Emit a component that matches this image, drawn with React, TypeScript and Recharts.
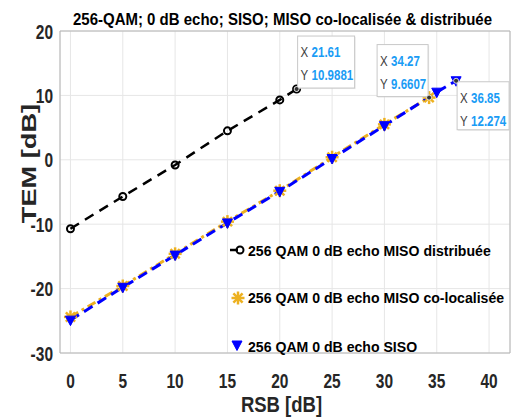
import React from 'react';
import { ComposedChart, Line, XAxis, YAxis, CartesianGrid, ReferenceLine, ReferenceDot } from 'recharts';

// RSB (dB) / TEM (dB)
const SNR_DIST = [0, 5, 10, 15, 20, 21.61];
const TEM_DIST = [-10.7, -5.7, -0.8, 4.5, 9.3, 10.9881];
const SNR_COLOC = [0, 5, 10, 15, 20, 25, 30, 34.27];
const TEM_COLOC = [-24.4, -19.6, -14.6, -9.6, -4.8, 0.4, 5.5, 9.6607];
const SNR_SISO = [0, 5, 10, 15, 20, 25, 30, 35, 36.85];
const TEM_SISO = [-24.9, -19.8, -14.8, -9.8, -4.9, 0.2, 5.3, 10.5, 12.274];

const X_TICKS = [0, 5, 10, 15, 20, 25, 30, 35, 40];
const Y_TICKS = [-30, -20, -10, 0, 10, 20];

const LEGEND_LABELS = [
  '256 QAM 0 dB echo MISO distribuée',
  '256 QAM 0 dB echo MISO co-localisée',
  '256 QAM 0 dB echo SISO',
];

// datatips
const TIP_X = [21.61, 34.27, 36.85];
const TIP_Y = [10.9881, 9.6607, 12.274];
const TIP_X_TEXT = ['21.61', '34.27', '36.85'];
const TIP_Y_TEXT = ['10.9881', '9.6607', '12.274'];

const zip = (xs: number[], ys: number[]) => xs.map((x, i) => ({ x, y: ys[i] }));
const distData = zip(SNR_DIST, TEM_DIST);
const colocData = zip(SNR_COLOC, TEM_COLOC);
const sisoData = zip(SNR_SISO, TEM_SISO);

const FONT = '"Liberation Sans", Arial, sans-serif';
const BLACK = '#000000';
const ORANGE = '#EDB120';
const BLUE = '#0000FF';
const TIP_BLUE = '#1a9cf5';

function STxt({ x, y, s, sy = 1.33, anchor = 'start', weight = 'bold', fill = '#262626', children }: any) {
  return (
    <text
      transform={`translate(${x},${y}) scale(1,${sy})`}
      fontSize={s}
      fontFamily={FONT}
      fontWeight={weight}
      fill={fill}
      textAnchor={anchor}
    >
      {children}
    </text>
  );
}

const YTick = (p: any) => (
  <STxt x={p.x} y={p.y + 7.5} s={15.5} sy={1.33} anchor="end">{p.payload.value}</STxt>
);
const XTick = (p: any) => (
  <STxt x={p.x} y={p.y} s={15.5} sy={1.32} anchor="middle">{p.payload.value}</STxt>
);

const Circle = ({ cx, cy }: any) => (
  <circle cx={cx} cy={cy} r={3.5} fill="none" stroke={BLACK} strokeWidth={2} />
);
const Star = ({ cx, cy }: any) => {
  const r = 6.5;
  return (
    <g stroke={ORANGE} strokeWidth={2.5}>
      {[0, 45, 90, 135].map((a) => {
        const dx = r * Math.cos((a * Math.PI) / 180);
        const dy = r * Math.sin((a * Math.PI) / 180);
        return <line key={a} x1={cx - dx} y1={cy - dy} x2={cx + dx} y2={cy + dy} />;
      })}
    </g>
  );
};
const Tri = ({ cx, cy }: any) => (
  <polygon points={`${cx - 5},${cy - 4} ${cx + 5},${cy - 4} ${cx},${cy + 5.5}`} fill={BLUE} stroke={BLUE} strokeWidth={1} />
);

const TIP_BOX = [
  { w: 57, h: 52, dx: 1, dy: -53 },
  { w: 51, h: 52, dx: -52, dy: -53 },
  { w: 52, h: 48, dx: 1, dy: 1 },
];

function tipShape(i: number) {
  return (p: any) => {
    const { cx, cy } = p;
    const b = TIP_BOX[i];
    const left = cx + b.dx;
    const top = cy + b.dy;
    return (
      <g>
        <rect x={left + 1} y={top + 1} width={b.w} height={b.h} fill="#d8d8d8" opacity={0.5} />
        <rect x={left} y={top} width={b.w} height={b.h} fill="#ffffff" stroke="#c8c8c8" strokeWidth={1} />
        <STxt x={left + 3} y={top + 21} s={11.5} sy={1.35} weight="normal" fill="#404040">X</STxt>
        <STxt x={left + 14} y={top + 21} s={11.5} sy={1.35} fill={TIP_BLUE}>{TIP_X_TEXT[i]}</STxt>
        <STxt x={left + 3} y={top + 44} s={11.5} sy={1.35} weight="normal" fill="#404040">Y</STxt>
        <STxt x={left + 14} y={top + 44} s={11.5} sy={1.35} fill={TIP_BLUE}>{TIP_Y_TEXT[i]}</STxt>
        <circle cx={cx} cy={cy} r={2.5} fill="#333" stroke="#fff" strokeWidth={0.8} />
      </g>
    );
  };
}

export default function App() {
  return (
    <div style={{ position: 'absolute', left: 0, top: 0, width: 521, height: 419, background: '#fff' }}>
      <ComposedChart width={521} height={419} margin={{ top: 31, right: 11, bottom: 0, left: 0 }}>
        <CartesianGrid stroke="#e6e6e6" strokeWidth={1} />
        <XAxis
          type="number"
          dataKey="x"
          domain={[-1, 42]}
          ticks={X_TICKS}
          interval={0}
          height={66}
          tickSize={0}
          tickMargin={35}
          tick={<XTick />}
          axisLine={{ stroke: '#b4b4b4' }}
          allowDataOverflow
        />
        <YAxis
          type="number"
          dataKey="y"
          domain={[-30, 20]}
          ticks={Y_TICKS}
          interval={0}
          width={60}
          tickSize={0}
          tickMargin={7}
          tick={<YTick />}
          axisLine={{ stroke: '#b4b4b4' }}
          allowDataOverflow
        />
        <ReferenceLine x={42} stroke="#b4b4b4" />
        <ReferenceLine y={20} stroke="#b4b4b4" />
        <Line
          data={distData}
          dataKey="y"
          stroke={BLACK}
          strokeWidth={2.5}
          strokeDasharray="10 7"
          dot={(p: any) => <Circle key={`d${p.index}`} {...p} />}
          isAnimationActive={false}
        />
        <Line
          data={colocData}
          dataKey="y"
          stroke={ORANGE}
          strokeWidth={3}
          strokeDasharray="9 4 3 4"
          dot={(p: any) => <Star key={`c${p.index}`} {...p} />}
          isAnimationActive={false}
        />
        <Line
          data={sisoData}
          dataKey="y"
          stroke={BLUE}
          strokeWidth={3}
          strokeDasharray="10 6"
          dot={(p: any) => <Tri key={`s${p.index}`} {...p} />}
          isAnimationActive={false}
        />
        {TIP_X.map((x, i) => (
          <ReferenceDot key={i} x={x} y={TIP_Y[i]} r={3} ifOverflow="visible" shape={tipShape(i)} />
        ))}
      </ComposedChart>
      <svg width={521} height={419} style={{ position: 'absolute', left: 0, top: 0, pointerEvents: 'none' }}>
        <STxt x={282.5} y={25} s={15} sy={1.15} anchor="middle" fill="#000">
          256-QAM; 0 dB echo; SISO; MISO co-localisée &amp; distribuée
        </STxt>
        <STxt x={281.5} y={412} s={18.5} sy={1.22} anchor="middle" fill="#262626">RSB [dB]</STxt>
        <text
          transform="translate(36,163.5) rotate(-90) scale(1.36,1)"
          fontSize={20}
          fontFamily={FONT}
          fontWeight="bold"
          fill="#262626"
          textAnchor="middle"
        >
          TEM [dB]
        </text>
        {/* legend */}
        <line x1={230} y1={250} x2={238} y2={250} stroke={BLACK} strokeWidth={2.5} />
        <Circle cx={240} cy={250} />
        <Star cx={238} cy={298} />
        <Tri cx={237} cy={345} />
        {LEGEND_LABELS.map((t, i) => (
          <STxt key={t} x={248} y={[256, 303, 352][i]} s={14.1} sy={1.1} fill="#000">{t}</STxt>
        ))}
      </svg>
    </div>
  );
}
